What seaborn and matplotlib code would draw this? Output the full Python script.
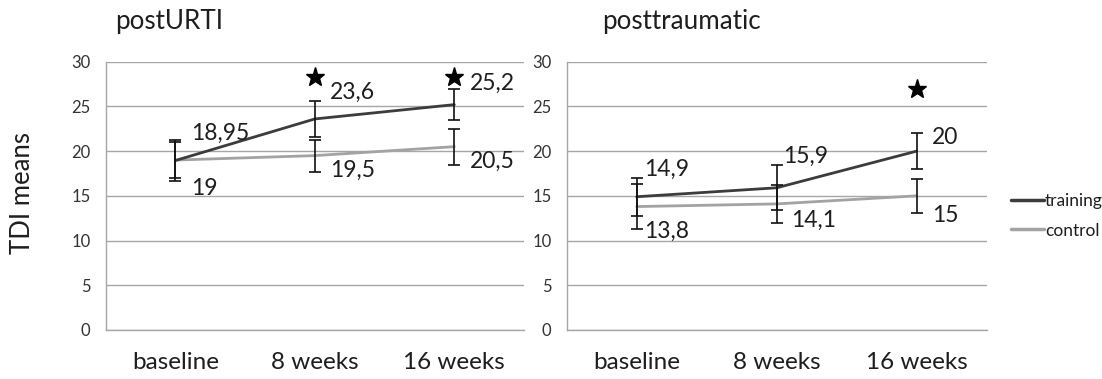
import matplotlib
matplotlib.use("Agg")
import matplotlib.pyplot as plt
from matplotlib.lines import Line2D
import seaborn as sns
import pandas as pd

# chart values
timepoints = ["baseline", "8 weeks", "16 weeks"]
groups = ["training", "control"]

urti_training = [18.95, 23.6, 25.2]
urti_control = [19, 19.5, 20.5]
urti_training_err = [2.25, 2.0, 1.75]
urti_control_err = [2.0, 1.8, 2.0]
urti_stars = [None, 28.3, 28.3]

trauma_training = [14.9, 15.9, 20]
trauma_control = [13.8, 14.1, 15]
trauma_training_err = [2.1, 2.5, 2.05]
trauma_control_err = [2.5, 2.1, 1.9]
trauma_stars = [None, None, 27.0]

panel_titles = ["postURTI", "posttraumatic"]

sns.set_style("white")
plt.rcParams["font.family"] = ["Lato", "DejaVu Sans"]

colors = {"training": "#3c3c3c", "control": "#a3a3a3"}
grid_color = "#a6a6a6"
text_color = "#1e1e1e"

# label offsets in pixels (dx, dy) per panel / series / point
label_offsets = {
    0: {"training": [(16, 27), (15, 27), (16, 21)],
        "control": [(16, -28), (15, -15), (16, -15)]},
    1: {"training": [(7, 27), (6, 31), (15, 14)],
        "control": [(7, -25), (14, -16), (15, -20)]},
}


def fmt(v):
    return f"{v:g}".replace(".", ",")


def draw_panel(ax, idx, training, control, training_err, control_err, stars):
    df = pd.DataFrame({
        "time": timepoints * 2,
        "TDI": control + training,
        "group": ["control"] * 3 + ["training"] * 3,
    })
    sns.lineplot(data=df, x="time", y="TDI", hue="group", hue_order=["control", "training"],
                 palette=colors, linewidth=2.0, sort=False, legend=False, ax=ax, zorder=3)
    xs = range(len(timepoints))
    for vals, errs in [(control, control_err), (training, training_err)]:
        ax.errorbar(xs, vals, yerr=errs, fmt="none", ecolor="#111111", elinewidth=1.2,
                    capsize=4, capthick=1.2, zorder=4)
    for x, s in zip(xs, stars):
        if s is not None:
            ax.plot(x, s, marker="*", markersize=14, color="black", zorder=5)
    for grp, vals in [("training", training), ("control", control)]:
        for x, v, (dx, dy) in zip(xs, vals, label_offsets[idx][grp]):
            ax.annotate(fmt(v), (x, v), xytext=(dx, dy), textcoords="offset pixels",
                        ha="left", va="center", fontsize=16.5, color=text_color, zorder=6)

    ax.set_xlim(-0.5, 2.5)
    ax.set_ylim(0, 30)
    ax.set_yticks(range(0, 31, 5))
    ax.yaxis.grid(True, color=grid_color, linewidth=1.0)
    ax.set_axisbelow(True)
    ax.set_xticks(list(xs))
    ax.set_xticklabels(timepoints, fontsize=17.5, color=text_color)
    ax.set_xticks([-0.5, 0.5, 1.5, 2.5], minor=True)
    ax.tick_params(axis="x", which="major", length=0, pad=16)
    ax.tick_params(axis="x", which="minor", length=6, width=1.0, color=grid_color, direction="out")
    ax.tick_params(axis="y", length=4, width=1.0, color=grid_color, pad=7, labelsize=12,
                   labelcolor="#333333", direction="out")
    ax.set_xlabel("")
    ax.set_ylabel("")
    for side in ["top", "right"]:
        ax.spines[side].set_visible(False)
    for side in ["left", "bottom"]:
        ax.spines[side].set_color(grid_color)
        ax.spines[side].set_linewidth(1.0)


fig = plt.figure(figsize=(11.02, 3.79), dpi=100)
ax1 = fig.add_axes([0.0959, 0.1293, 0.3796, 0.7079])
ax2 = fig.add_axes([0.5142, 0.1293, 0.3811, 0.7079])

draw_panel(ax1, 0, urti_training, urti_control, urti_training_err, urti_control_err, urti_stars)
draw_panel(ax2, 1, trauma_training, trauma_control, trauma_training_err, trauma_control_err, trauma_stars)

fig.text(115 / 1102, 1 - 22 / 379, panel_titles[0], fontsize=18.7, color=text_color, va="center", ha="left")
fig.text(602 / 1102, 1 - 22 / 379, panel_titles[1], fontsize=18.7, color=text_color, va="center", ha="left")
fig.text(23 / 1102, 1 - 193 / 379, "TDI means", fontsize=18.5, color=text_color, rotation=90,
         va="center", ha="center")

handles = [Line2D([0], [0], color=colors[g], linewidth=2.5) for g in groups]
fig.legend(handles, groups, loc="center left", bbox_to_anchor=(1011 / 1102, 1 - 216 / 379),
           frameon=False, fontsize=12.5, handlelength=1.9, handletextpad=0.05,
           labelspacing=0.75, borderpad=0, borderaxespad=0, labelcolor=text_color)

fig.savefig("out.png", dpi=100)
